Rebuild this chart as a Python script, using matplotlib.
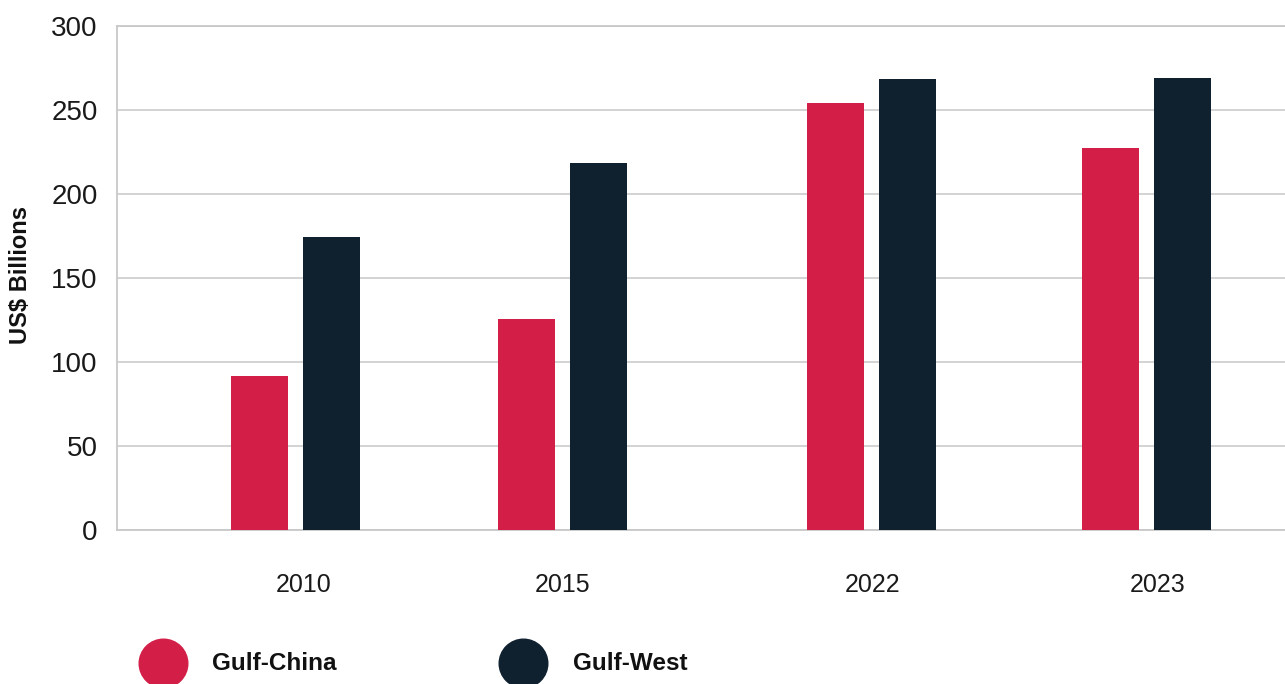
import matplotlib.pyplot as plt
from matplotlib.lines import Line2D

# data
years = ["2010", "2015", "2022", "2023"]
gulf_china = [91.7, 125.6, 254.2, 227.4]
gulf_west = [174.4, 218.5, 268.5, 269.0]
series_names = ["Gulf-China", "Gulf-West"]
colors = ["#D31F48", "#0F202F"]

# layout (axes units ~ pixels from the left spine)
group_pos = [178.5, 445, 754.5, 1029]
label_pos = [186.5, 446, 756, 1041]
bar_w = 57
off = 36

plt.rcParams['font.family'] = ['Liberation Sans', 'DejaVu Sans']

fig = plt.figure(figsize=(12.85, 6.84), dpi=100)
ax = fig.add_axes([117 / 1285, 1 - 530 / 684, 1 - 117 / 1285, (530 - 26) / 684])

ax.bar([p - off for p in group_pos], gulf_china, width=bar_w, color=colors[0], zorder=3)
ax.bar([p + off for p in group_pos], gulf_west, width=bar_w, color=colors[1], zorder=3)

ax.set_xlim(0, 1168)
ax.set_ylim(0, 300)
ax.set_yticks(range(0, 301, 50))
ax.set_xticks(label_pos)
ax.set_xticklabels(years)
ax.tick_params(axis='both', length=0, labelcolor='#1a1a1a')
ax.tick_params(axis='y', pad=14, labelsize=20)
ax.tick_params(axis='x', pad=31, labelsize=18)

ax.grid(axis='y', color='#d0d0d0', linewidth=1.3, zorder=0)
ax.spines['right'].set_visible(False)
for s in ['left', 'bottom', 'top']:
    ax.spines[s].set_color('#c8c8c8')
    ax.spines[s].set_linewidth(1.3)

fig.text(21 / 1285, 1 - 275 / 684, "US$ Billions", rotation=90, ha='center', va='center',
         fontsize=17, fontweight='bold', color='#111111')

# legend
leg_x = [162.5, 522.5]
txt_x = [212, 572.5]
leg_y = 1 - 662.5 / 684
for i, name in enumerate(series_names):
    fig.add_artist(Line2D([leg_x[i] / 1285], [leg_y], marker='o', markersize=35,
                          color=colors[i], linestyle='none', transform=fig.transFigure))
    fig.text(txt_x[i] / 1285, 1 - 664 / 684, name, ha='left', va='center', fontsize=17.5,
             fontweight='bold', color='#111111')

fig.savefig("out.png", dpi=100)
